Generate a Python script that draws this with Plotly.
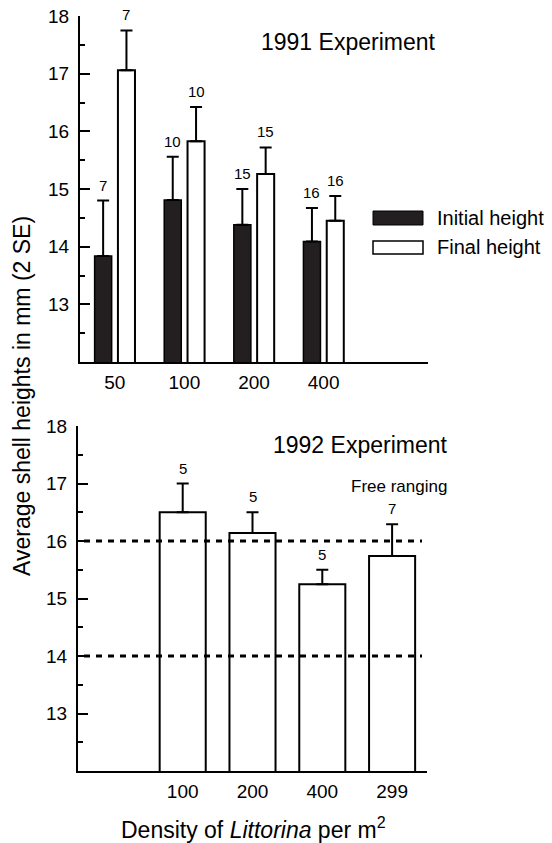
import plotly.graph_objects as go

# ---------------- data ----------------
dens_1991 = ["50", "100", "200", "400"]
initial_1991 = [13.84, 14.81, 14.38, 14.09]
initial_err_1991 = [0.96, 0.75, 0.62, 0.58]
initial_n_1991 = [7, 10, 15, 16]
final_1991 = [17.06, 15.83, 15.26, 14.45]
final_err_1991 = [0.69, 0.59, 0.46, 0.43]
final_n_1991 = [7, 10, 15, 16]

dens_1992 = ["100", "200", "400", "299"]
final_1992 = [16.5, 16.14, 15.25, 15.74]
final_err_1992 = [0.5, 0.36, 0.25, 0.55]
final_n_1992 = [5, 5, 5, 7]
ref_lines_1992 = [16, 14]

W, H = 552, 843
FONT = "Liberation Sans, Arial, Helvetica, sans-serif"
BLACK_FILL = "#231f20"


def px(x):
    return x / W


def py(y):
    return 1 - y / H


pos_1991 = list(range(len(dens_1991)))
pos_1992 = [i + 1 for i in range(len(dens_1992))]
BW1 = 0.245
OFF_I = -0.29
OFF_F = 0.045
BW2 = 0.66

fig = go.Figure()

err_style = dict(type="data", symmetric=False, color="black", thickness=2, width=6)

fig.add_trace(go.Bar(
    x=pos_1991, y=initial_1991, width=BW1, offset=OFF_I,
    marker=dict(color=BLACK_FILL, line=dict(color="black", width=1.5)),
    error_y=dict(array=initial_err_1991, arrayminus=[0] * 4, **err_style),
    xaxis="x", yaxis="y", showlegend=False, name="Initial height",
))
fig.add_trace(go.Bar(
    x=pos_1991, y=final_1991, width=BW1, offset=OFF_F,
    marker=dict(color="white", line=dict(color="black", width=2)),
    error_y=dict(array=final_err_1991, arrayminus=[0] * 4, **err_style),
    xaxis="x", yaxis="y", showlegend=False, name="Final height",
))
fig.add_trace(go.Bar(
    x=pos_1992, y=final_1992, width=BW2,
    marker=dict(color="white", line=dict(color="black", width=2)),
    error_y=dict(array=final_err_1992, arrayminus=[0] * 4, **err_style),
    xaxis="x2", yaxis="y2", showlegend=False, name="1992",
))


def ann(**kw):
    d = dict(showarrow=False, xanchor="center", yanchor="middle")
    d.update(kw)
    return d


annotations = []
cnt_font = dict(size=15, family=FONT, color="black")
for i, p in enumerate(pos_1991):
    annotations.append(ann(x=p + OFF_I + BW1 / 2, y=initial_1991[i] + initial_err_1991[i],
                           xref="x", yref="y", text=str(initial_n_1991[i]),
                           yanchor="bottom", yshift=5, font=cnt_font))
    annotations.append(ann(x=p + OFF_F + BW1 / 2, y=final_1991[i] + final_err_1991[i],
                           xref="x", yref="y", text=str(final_n_1991[i]),
                           yanchor="bottom", yshift=5, font=cnt_font))
for i, p in enumerate(pos_1992):
    annotations.append(ann(x=p, y=final_1992[i] + final_err_1992[i],
                           xref="x2", yref="y2", text=str(final_n_1992[i]),
                           yanchor="bottom", yshift=5, font=cnt_font))
annotations.append(ann(x=pos_1992[-1], y=final_1992[-1] + final_err_1992[-1],
                       xref="x2", yref="y2", text="Free ranging",
                       yanchor="bottom", yshift=26, xshift=7,
                       font=dict(size=17, family=FONT, color="black")))

title_font = dict(size=23, family=FONT, color="black")
annotations.append(ann(x=px(348), y=py(42), xref="paper", yref="paper", text="1991 Experiment", font=title_font))
annotations.append(ann(x=px(360), y=py(445), xref="paper", yref="paper", text="1992 Experiment", font=title_font))
leg_font = dict(size=20, family=FONT, color="black")
annotations.append(ann(x=px(435), y=py(218), xref="paper", yref="paper", text="Initial height",
                       xanchor="left", font=leg_font))
annotations.append(ann(x=px(435), y=py(247), xref="paper", yref="paper", text="Final height",
                       xanchor="left", font=leg_font))
annotations.append(ann(x=px(22), y=py(396), xref="paper", yref="paper",
                       text="Average shell heights in mm (2 SE)", textangle=-90, font=title_font))
annotations.append(ann(x=px(253), y=py(828), xref="paper", yref="paper",
                       text="Density of <i>Littorina</i> per m<sup>2</sup>", font=title_font))

shapes = []
for v in ref_lines_1992:
    shapes.append(dict(type="line", xref="paper", yref="y2", x0=px(84), x1=px(422), y0=v, y1=v,
                       line=dict(color="black", width=3, dash="6px,6px"), layer="above"))
shapes.append(dict(type="rect", xref="paper", yref="paper", x0=px(373), x1=px(423), y0=py(225), y1=py(211),
                   fillcolor=BLACK_FILL, line=dict(color="black", width=1)))
shapes.append(dict(type="rect", xref="paper", yref="paper", x0=px(373), x1=px(423), y0=py(254), y1=py(241),
                   fillcolor="white", line=dict(color="black", width=1.5)))

yax = dict(range=[12, 18], tickvals=[13, 14, 15, 16, 17, 18], ticks="inside", ticklen=10, tickwidth=2,
           tickcolor="black", showline=True, linecolor="black", linewidth=2, showgrid=False, zeroline=False,
           minor=dict(dtick=0.5, ticks="inside", ticklen=5, tickwidth=1.5, tickcolor="black", showgrid=False),
           tickfont=dict(size=19, family=FONT, color="black"), ticklabelstandoff=5, fixedrange=True,
           automargin=False)
xax = dict(range=[-0.5, 4.5], ticks="", showline=True, linecolor="black", linewidth=2, showgrid=False,
           zeroline=False, tickfont=dict(size=19, family=FONT, color="black"), ticklabelstandoff=2,
           automargin=False, fixedrange=True)

fig.update_layout(
    width=W, height=H, margin=dict(l=0, r=0, t=0, b=0, pad=0, autoexpand=False),
    paper_bgcolor="white", plot_bgcolor="white", barmode="overlay",
    font=dict(family=FONT, color="black"),
    xaxis=dict(domain=[px(80), px(428)], anchor="y", tickvals=pos_1991, ticktext=dens_1991, **xax),
    yaxis=dict(domain=[py(362), py(16)], anchor="x", **yax),
    xaxis2=dict(domain=[px(78), px(427)], anchor="y2", tickvals=pos_1992, ticktext=dens_1992, **xax),
    yaxis2=dict(domain=[py(771), py(426)], anchor="x2", **yax),
    annotations=annotations, shapes=shapes, showlegend=False,
)

fig.write_html("out.html", config={"displayModeBar": False},
               post_script="document.body.style.margin='0';document.body.style.overflow='hidden';")
